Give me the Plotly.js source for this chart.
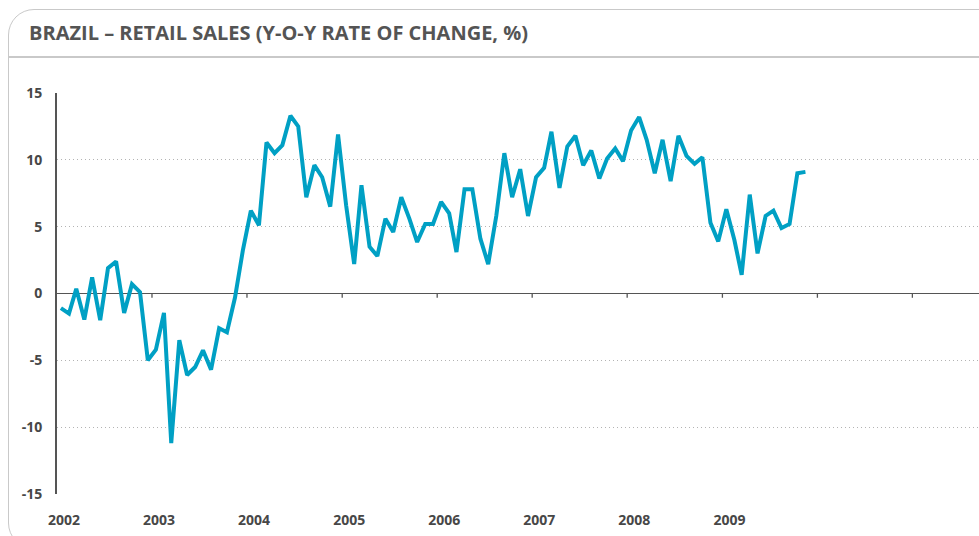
<!DOCTYPE html>
<html>
<head>
<meta charset="utf-8">
<script src="https://cdn.plot.ly/plotly-3.0.1.min.js"></script>
<style>
  html, body { margin: 0; padding: 0; background: #ffffff; }
  #wrap { position: relative; width: 979px; height: 536px; overflow: hidden; }
  #chart { position: absolute; left: 0; top: 0; width: 979px; height: 536px; }
  #frame { position: absolute; left: 8px; top: 9px; width: 990px; height: 540px;
           border: 1.5px solid #c9c9c9; border-radius: 26px 0 26px 26px;
           box-sizing: border-box; pointer-events: none; }
  #sep { position: absolute; left: 9px; top: 56px; width: 980px; height: 1.5px; background: #c9c9c9; }
</style>
</head>
<body>
<div id="wrap">
  <div id="chart"></div>
  <div id="frame"></div>
  <div id="sep"></div>
</div>
<script>
// ---- data (monthly, Jan 2002 – Nov 2009) ----
const startYear = 2002;
const startMonth = 1;
const values2002 = [-1.1, -1.5, 0.35, -1.95, 1.2, -2.0, 1.9, 2.4, -1.45, 0.7, 0.1, -5.0];
const values2003 = [-4.2, -1.45, -11.2, -3.5, -6.1, -5.5, -4.25, -5.7, -2.6, -2.9, -0.3, 3.2];
const values2004 = [6.2, 5.1, 11.3, 10.5, 11.1, 13.3, 12.5, 7.2, 9.6, 8.7, 6.5, 11.9];
const values2005 = [6.6, 2.2, 8.1, 3.5, 2.8, 5.6, 4.6, 7.2, 5.6, 3.85, 5.2, 5.2];
const values2006 = [6.85, 6.0, 3.1, 7.8, 7.8, 4.1, 2.2, 5.8, 10.5, 7.2, 9.3, 5.8];
const values2007 = [8.7, 9.4, 12.1, 7.9, 11.0, 11.8, 9.6, 10.7, 8.6, 10.1, 10.85, 9.9];
const values2008 = [12.2, 13.2, 11.5, 9.0, 11.5, 8.4, 11.8, 10.3, 9.7, 10.2, 5.3, 3.9];
const values2009 = [6.3, 4.0, 1.4, 7.4, 3.0, 5.8, 6.2, 4.9, 5.2, 9.0, 9.1];

const yearLabels = ['2002', '2003', '2004', '2005', '2006', '2007', '2008', '2009'];
const yTickVals = [15, 10, 5, 0, -5, -10, -15];
const yTickText = ['15', '10', '5', '0', '-5', '-10', '-15'];
const tickYears = [2003, 2004, 2005, 2006, 2007, 2008, 2009, 2010, 2011];
const titleText = 'BRAZIL \u2013 RETAIL SALES (Y-O-Y RATE OF CHANGE, %)';

// ---- build series ----
const values = [].concat(values2002, values2003, values2004, values2005,
                         values2006, values2007, values2008, values2009);
const months = values.map((v, i) => {
  const m0 = startMonth - 1 + i;
  const y = startYear + Math.floor(m0 / 12);
  const m = (m0 % 12) + 1;
  return y + '-' + String(m).padStart(2, '0') + '-16';
});

const lineColor = '#00a0c4';
const axisColor = '#555555';
const textColor = '#474747';

const trace = {
  type: 'scatter', mode: 'lines',
  x: months, y: values,
  line: { color: lineColor, width: 4.0, shape: 'linear' },
  hoverinfo: 'skip'
};

const yearShapes = tickYears.map(yr => ({
  type: 'line', xref: 'x', yref: 'y',
  x0: yr + '-01-01', x1: yr + '-01-01', y0: 0, y1: -0.32,
  line: { color: axisColor, width: 1.3 }
}));

const layout = {
  width: 979, height: 536,
  margin: { l: 57, r: 0, t: 93, b: 42, pad: 0 },
  paper_bgcolor: 'rgba(0,0,0,0)',
  plot_bgcolor: 'rgba(0,0,0,0)',
  showlegend: false,
  title: {
    text: titleText,
    xref: 'container', yref: 'container',
    x: 29 / 979, xanchor: 'left',
    y: 1 - 33 / 536, yanchor: 'middle',
    font: { family: 'Open Sans, sans-serif', size: 20, color: '#545454', weight: 700 }
  },
  xaxis: {
    type: 'date',
    range: ['2002-01-01', '2011-09-14'],
    tickmode: 'array',
    tickvals: yearLabels.map(y => y + '-01-28'),
    ticktext: yearLabels,
    ticks: '',
    showgrid: false,
    zeroline: false,
    showline: false,
    ticklabelstandoff: 16,
    tickfont: { family: 'Open Sans, sans-serif', size: 14, color: textColor, weight: 700 },
    fixedrange: true
  },
  yaxis: {
    range: [-15, 15],
    tickmode: 'array',
    tickvals: yTickVals,
    ticktext: yTickText,
    ticks: '',
    showgrid: true,
    gridcolor: '#b3b3b3',
    gridwidth: 1,
    griddash: '1px,3px',
    zeroline: true,
    zerolinecolor: axisColor,
    zerolinewidth: 1.5,
    showline: true,
    linecolor: axisColor,
    linewidth: 2,
    ticklabelstandoff: 10,
    tickfont: { family: 'Open Sans, sans-serif', size: 14, color: textColor, weight: 700 },
    fixedrange: true
  },
  shapes: yearShapes
};

Plotly.newPlot('chart', [trace], layout, { staticPlot: true, displayModeBar: false });
</script>
</body>
</html>
